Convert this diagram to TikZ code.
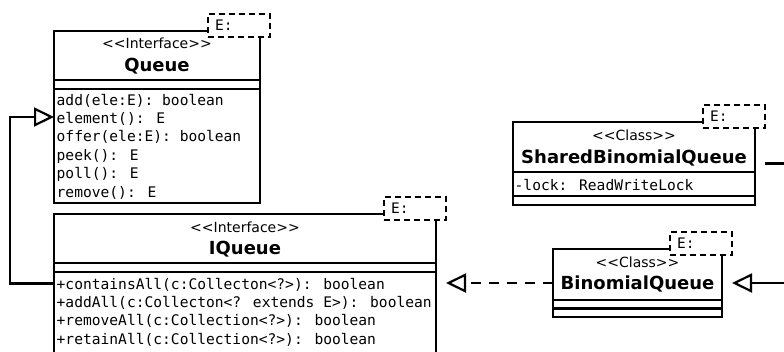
\documentclass[tikz,border=0pt]{standalone}
\usepackage{fontspec}
\newfontfamily\umlsans{DejaVu Sans}
\newfontfamily\umlmono{DejaVu Sans Mono}
\usetikzlibrary{arrows.meta,calc}
\tikzset{
  umlbox/.style={draw, line width=2.2pt, fill=white, rectangle, anchor=north west,
    inner sep=0pt, outer sep=0pt},
  tmplbox/.style={draw, line width=2.2pt, fill=white, dash pattern=on 6pt off 4pt,
    anchor=north east, minimum width=62pt, minimum height=23pt, inner sep=0pt, outer sep=0pt},
  tmpltext/.style={anchor=west, inner sep=0pt, font=\umlmono\fontsize{14.5}{17}\selectfont},
  stereo/.style={anchor=base, inner sep=0pt, font=\umlsans\fontsize{14}{16}\selectfont},
  clsname/.style={anchor=base, inner sep=0pt, font=\umlsans\bfseries\fontsize{18}{21}\selectfont},
  member/.style={anchor=base west, inner sep=0pt, font=\umlmono\fontsize{14.6}{18}\selectfont},
  sep/.style={line width=2.2pt},
  inherit/.style={line width=2.2pt, -{Triangle[open, length=20pt, width=19pt]}},
  realize/.style={inherit, dash pattern=on 10pt off 8pt},
}
\begin{document}
\begin{tikzpicture}[x=1pt, y=-1pt]
  \clip (0,0) rectangle (784,351);
  \fill[white] (0,0) rectangle (784,351);

  % Queue interface
  \node[umlbox, minimum width=206pt, minimum height=172pt] (q) at (54,31) {};
  \draw[sep] (54,80) -- (260,80);
  \draw[sep] (54,89) -- (260,89);
  \node[tmplbox] (qT) at (270,14) {};
  \node[tmpltext] (qTt) at ($(qT.west)+(7pt,0)$) {E:};
  \node[stereo] (qs) at (157,48) {<\kern0pt<Interface>\kern0pt>};
  \node[clsname] (qn) at (157,71.5) {Queue};
  \foreach \t [count=\i] in {{add(ele:E): boolean},{element(): E},{offer(ele:E): boolean},
      {peek(): E},{poll(): E},{remove(): E}}
    \node[member] (qm\i) at (56.5,{105+18.4*(\i-1)}) {\t};

  % IQueue interface
  \node[umlbox, minimum width=382pt, minimum height=139pt] (iq) at (54,214) {};
  \draw[sep] (54,263) -- (436,263);
  \draw[sep] (54,272) -- (436,272);
  \node[tmplbox] (iqT) at (446,197) {};
  \node[tmpltext] (iqTt) at ($(iqT.west)+(7pt,0)$) {E:};
  \node[stereo] (iqs) at (245,232) {<\kern0pt<Interface>\kern0pt>};
  \node[clsname] (iqn) at (245,254.5) {IQueue};
  \foreach \t [count=\i] in {{+containsAll(c:Collecton<?>): boolean},
      {+addAll(c:Collecton<? extends E>): boolean},
      {+removeAll(c:Collection<?>): boolean},
      {+retainAll(c:Collection<?>): boolean}}
    \node[member] (iqm\i) at (56.5,{289+18.4*(\i-1)}) {\t};

  % SharedBinomialQueue class
  \node[umlbox, minimum width=242pt, minimum height=83pt] (sh) at (513,122) {};
  \draw[sep] (513,172) -- (755,172);
  \draw[sep] (513,196) -- (755,196);
  \node[tmplbox] (shT) at (765,105) {};
  \node[tmpltext] (shTt) at ($(shT.west)+(7pt,0)$) {E:};
  \node[stereo] (shs) at (634,140) {<\kern0pt<Class>\kern0pt>};
  \node[clsname] (shn) at (634,163.5) {SharedBinomialQueue};
  \node[member] (sha) at (514.5,190) {-lock: ReadWriteLock};

  % BinomialQueue class
  \node[umlbox, minimum width=169pt, minimum height=68pt] (bq) at (553,249) {};
  \draw[sep] (553,300) -- (722,300);
  \draw[sep] (553,308.5) -- (722,308.5);
  \node[tmplbox] (bqT) at (732,232) {};
  \node[tmpltext] (bqTt) at ($(bqT.west)+(7pt,0)$) {E:};
  \node[stereo] (bqs) at (637.5,267) {<\kern0pt<Class>\kern0pt>};
  \node[clsname] (bqn) at (637.5,289.5) {BinomialQueue};

  % relations
  \coordinate (bend) at (10,0);
  \coordinate (farR) at (800,0);
  \draw[inherit] (iq.west) -- (iq.west -| bend) |- (q.west);
  \draw[realize] (bq.west) -- (iqT.east |- bq.west);
  \draw[inherit] (shT.east |- sh.east) -- (sh.east -| farR) -- (farR |- bq.east)
    -- (bqT.east |- bq.east);
\end{tikzpicture}
\end{document}
